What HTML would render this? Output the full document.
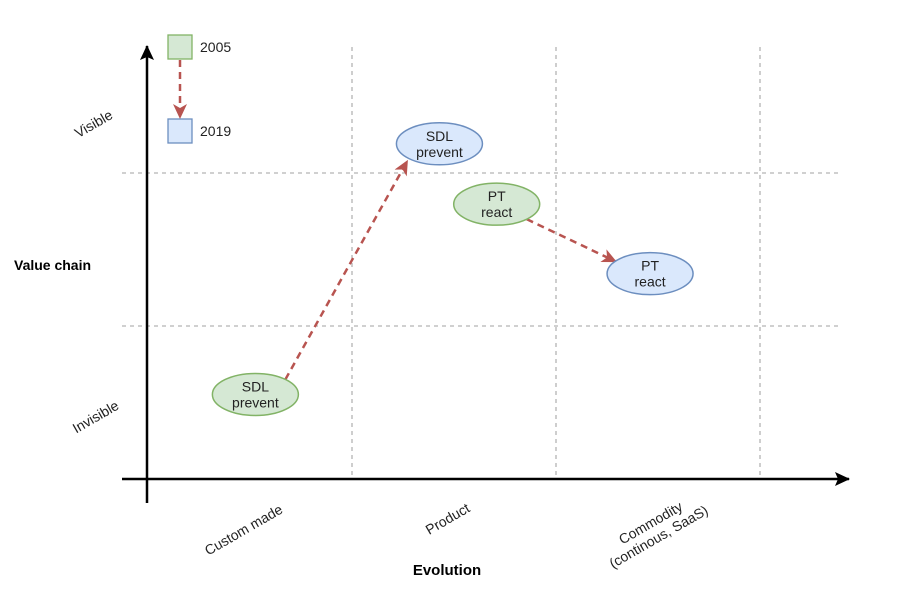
<!DOCTYPE html>
<html><head><meta charset="utf-8"><style>
html,body{margin:0;padding:0;background:#fff;}
svg{display:block;font-family:"Liberation Sans",Arial,sans-serif;}
</style></head><body>
<svg id="chart" width="913" height="594" viewBox="0 0 913 594">
<defs>
<marker id="ax" markerWidth="15" markerHeight="14" refX="14" refY="7" orient="auto" markerUnits="userSpaceOnUse" viewBox="0 0 15 14"><path d="M0,0 L15,7 L0,14 L3,7 z" fill="#000"/></marker>
<marker id="ra" markerWidth="15" markerHeight="14" refX="14" refY="7" orient="auto" markerUnits="userSpaceOnUse" viewBox="0 0 15 14"><path d="M0,0 L15,7 L0,14 L4,7 z" fill="#b85450"/></marker>
</defs>
<g stroke="#b3b3b3" stroke-dasharray="4 4" stroke-width="1.3">
<line x1="352" y1="47" x2="352" y2="479"/>
<line x1="556" y1="47" x2="556" y2="479"/>
<line x1="760" y1="47" x2="760" y2="479"/>
<line x1="122" y1="173" x2="838" y2="173"/>
<line x1="122" y1="326" x2="838" y2="326"/>
</g>
<line x1="147" y1="503" x2="147" y2="46" stroke="#000" stroke-width="2.5" marker-end="url(#ax)"/>
<line x1="122" y1="479" x2="849" y2="479" stroke="#000" stroke-width="2.5" marker-end="url(#ax)"/>

<rect x="168" y="35" width="24" height="24" fill="#d5e8d4" stroke="#82b366" stroke-width="1.3"/>
<text x="200" y="52" font-size="14" fill="#222">2005</text>
<rect x="168" y="119" width="24" height="24" fill="#dae8fc" stroke="#6c8ebf" stroke-width="1.3"/>
<text x="200" y="136" font-size="14" fill="#222">2019</text>
<line x1="180" y1="60" x2="180" y2="118" stroke="#b85450" stroke-width="2.5" stroke-dasharray="7 5" marker-end="url(#ra)"/>

<text transform="translate(96,128) rotate(-30)" text-anchor="middle" font-size="14" fill="#222">Visible</text>
<text transform="translate(98,421) rotate(-30)" text-anchor="middle" font-size="14" fill="#222">Invisible</text>
<text x="14" y="270" font-size="14" font-weight="bold">Value chain</text>
<text x="447" y="575" text-anchor="middle" font-size="15" font-weight="bold">Evolution</text>
<text transform="translate(246,534) rotate(-30)" text-anchor="middle" font-size="14" fill="#222">Custom made</text>
<text transform="translate(450,523) rotate(-30)" text-anchor="middle" font-size="14" fill="#222">Product</text>
<text transform="translate(657,534) rotate(-30)" text-anchor="middle" font-size="14" fill="#222"><tspan x="0" dy="-8">Commodity</tspan><tspan x="0" dy="16">(continous, SaaS)</tspan></text>
<g id="marks"></g>
</svg>
<script>
const nodeNames = ["SDL prevent", "SDL prevent", "PT react", "PT react"];
const nodeYears = ["2005", "2019", "2005", "2019"];
const evolution = [0.53, 1.43, 1.71, 2.46];
const visibility = [0.28, 1.11, 0.91, 0.68];
const moves = [[0,1],[2,3]];
function xs(v){return 147 + v*204.5;}
function ys(v){return 479 - v*302;}
const g = document.getElementById('marks');
const NS = "http://www.w3.org/2000/svg";
const rx = 43, ry = 21;
moves.forEach((m,i)=>{
  const x1=xs(evolution[m[0]]), y1=ys(visibility[m[0]]), x2=xs(evolution[m[1]]), y2=ys(visibility[m[1]]);
  const up = y2 < y1 - 100;
  const sx = x1 + 30, sy = up ? y1 - 15 : y1 + 15;
  const tx = up ? x2 - 32 : x2 - 34, ty = up ? y2 + 17 : y2 - 12;
  const l=document.createElementNS(NS,'line');
  l.setAttribute('x1',sx); l.setAttribute('y1',sy);
  l.setAttribute('x2',tx); l.setAttribute('y2',ty);
  l.setAttribute('stroke','#b85450'); l.setAttribute('stroke-width','2.5');
  l.setAttribute('stroke-dasharray','7 5'); l.setAttribute('marker-end','url(#ra)');
  
  
  g.appendChild(l);
});
nodeNames.forEach((n,i)=>{
  const cx=xs(evolution[i]), cy=ys(visibility[i]);
  const e=document.createElementNS(NS,'ellipse');
  e.setAttribute('cx',cx); e.setAttribute('cy',cy); e.setAttribute('rx',rx); e.setAttribute('ry',ry);
  const green = nodeYears[i]==="2005";
  e.setAttribute('fill', green?'#d5e8d4':'#dae8fc');
  e.setAttribute('stroke', green?'#82b366':'#6c8ebf');
  e.setAttribute('stroke-width','1.5');
  
  
  g.appendChild(e);
  const parts=n.split(' ');
  const t=document.createElementNS(NS,'text');
  t.setAttribute('text-anchor','middle'); t.setAttribute('font-size','14'); t.setAttribute('fill','#222');
  
  
  parts.forEach((p,j)=>{
    const s=document.createElementNS(NS,'tspan');
    s.setAttribute('x',cx); s.setAttribute('y',cy-3+j*16);
    s.textContent=p; t.appendChild(s);
  });
  g.appendChild(t);
});
</script>
</body></html>
